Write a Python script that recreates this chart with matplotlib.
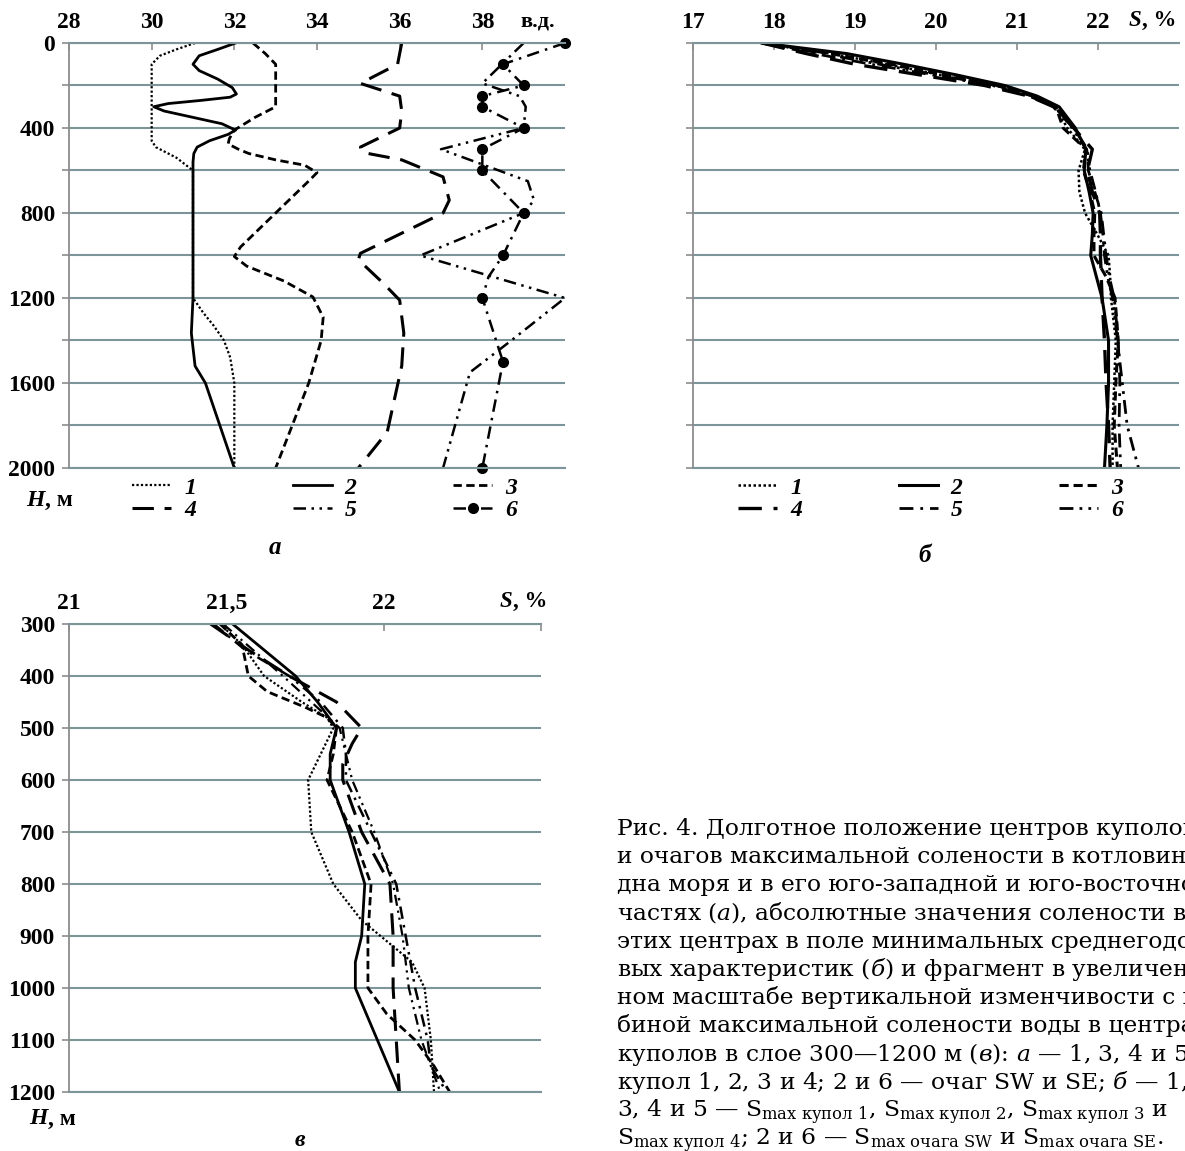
import matplotlib
matplotlib.use("Agg")
import matplotlib.pyplot as plt
from matplotlib.font_manager import FontProperties

plt.rcParams['font.family'] = ['Liberation Serif', 'DejaVu Serif']
plt.rcParams['mathtext.fontset'] = 'custom'
plt.rcParams['mathtext.rm'] = 'DejaVu Serif'
plt.rcParams['mathtext.it'] = 'DejaVu Serif:italic'
plt.rcParams['mathtext.bf'] = 'DejaVu Serif:bold'

# ---------------- panel a: longitude of centres vs depth ----------------
a1_depth = [0, 30, 60, 100, 460, 490, 540, 600, 800, 1000, 1200, 1270, 1330, 1400, 1480, 1600, 2000]
a1_lon = [31.05, 30.6, 30.2, 30.0, 30.0, 30.1, 30.6, 31.0, 31.0, 31.0, 31.0, 31.25, 31.5, 31.75,
          31.9, 32.0, 32.0]

a2_depth = [0, 30, 60, 100, 130, 170, 210, 240, 255, 270, 285, 300, 320, 350, 380, 410, 430, 460,
            490, 520, 560, 800, 1000, 1200, 1365, 1520, 1600, 2000]
a2_lon = [32.03, 31.6, 31.15, 31.0, 31.15, 31.6, 31.95, 32.05, 31.9, 31.2, 30.4, 30.05, 30.3, 31.0,
          31.7, 32.03, 31.85, 31.4, 31.1, 31.02, 31.0, 31.0, 31.0, 31.0, 30.96, 31.05, 31.3, 32.0]

a3_depth = [0, 50, 100, 300, 350, 410, 450, 475, 500, 520, 550, 575, 610, 640, 800, 960, 1005,
            1050, 1120, 1195, 1290, 1400, 1600, 2000]
a3_lon = [32.45, 32.75, 33.0, 33.0, 32.5, 32.0, 31.88, 31.85, 32.1, 32.35, 33.0, 33.7, 34.0, 33.85,
          33.0, 32.15, 32.0, 32.3, 33.2, 33.9, 34.15, 34.1, 33.8, 33.0]

a4_depth = [0, 100, 190, 250, 320, 400, 490, 515, 550, 630, 740, 800, 990, 1020, 1130, 1210, 1365,
            1520, 1830, 2000]
a4_lon = [36.05, 35.95, 35.05, 36.0, 36.05, 36.0, 35.05, 35.1, 36.05, 37.05, 37.2, 37.05, 35.05,
          35.0, 35.6, 36.0, 36.1, 36.05, 35.7, 35.0]

a5_depth = [0, 190, 250, 300, 400, 500, 650, 740, 800, 1000, 1200, 1400, 1550, 2000]
a5_lon = [39.0, 38.0, 38.9, 39.05, 39.0, 37.0, 39.1, 39.25, 39.0, 36.5, 40.0, 38.7, 37.7, 37.05]

a6_depth = [0, 100, 200, 250, 300, 400, 500, 600, 800, 1000, 1100, 1200, 1500, 2000]
a6_lon = [40.0, 38.5, 39.0, 38.0, 38.0, 39.0, 38.0, 38.0, 39.0, 38.5, 38.15, 38.0, 38.5, 38.0]
a6_marked = [0, 1, 2, 3, 4, 5, 6, 7, 8, 9, 11, 12, 13]

a_xticks = [28, 30, 32, 34, 36, 38]
a_yticks = [0, 400, 800, 1200, 1600, 2000]

# ---------------- panel б: salinity profiles 0-2000 m ----------------
b_depth = [0, 50, 100, 150, 200, 250, 300, 400, 500, 600, 700, 800, 900, 1000, 1100, 1200,
           1400, 1600, 1800, 2000]
b1_s = [17.85, 18.7, 19.4, 20.05, 20.75, 21.2, 21.48, 21.62, 21.84, 21.76, 21.77, 21.84, 21.99,
        22.13, 22.15, 22.16, 22.22, 22.2, 22.18, 22.18]
b2_s = [17.85, 18.9, 19.6, 20.25, 20.85, 21.25, 21.52, 21.72, 21.85, 21.83, 21.89, 21.94, 21.93,
        21.91, 21.98, 22.05, 22.13, 22.13, 22.11, 22.08]
b3_s = [17.85, 18.7, 19.45, 20.1, 20.75, 21.2, 21.48, 21.57, 21.85, 21.82, 21.9, 21.96, 21.95,
        21.95, 22.1, 22.21, 22.25, 22.22, 22.2, 22.24]
b4_s = [17.85, 18.4, 19.0, 19.8, 20.6, 21.15, 21.45, 21.7, 21.93, 21.87, 21.93, 22.02, 22.03,
        22.03, 22.04, 22.05, 22.08, 22.1, 22.13, 22.15]
b5_s = [17.85, 18.5, 19.2, 19.95, 20.7, 21.15, 21.46, 21.7, 21.87, 21.88, 21.96, 22.04, 22.07,
        22.1, 22.14, 22.2, 22.25, 22.27, 22.26, 22.28]
b6_s = [17.9, 18.6, 19.3, 20.0, 20.75, 21.2, 21.49, 21.68, 21.86, 21.9, 21.97, 22.03, 22.06,
        22.08, 22.12, 22.18, 22.24, 22.3, 22.36, 22.5]
b_xticks = [17, 18, 19, 20, 21, 22]

# ---------------- panel в: 300-1200 m fragment ----------------
c1_depth = [300, 340, 400, 450, 480, 500, 550, 600, 700, 800, 870, 900, 950, 1000, 1100, 1200]
c1_s = [21.48, 21.55, 21.62, 21.74, 21.82, 21.84, 21.8, 21.76, 21.77, 21.84, 21.93, 21.99, 22.09,
        22.13, 22.15, 22.16]
c2_depth = [300, 400, 450, 500, 550, 600, 700, 800, 900, 950, 1000, 1100, 1200]
c2_s = [21.52, 21.72, 21.79, 21.85, 21.83, 21.83, 21.89, 21.94, 21.93, 21.91, 21.91, 21.98, 22.05]
c3_depth = [300, 340, 400, 430, 460, 480, 500, 550, 600, 700, 800, 900, 1000, 1050, 1100, 1150,
            1200]
c3_s = [21.48, 21.55, 21.57, 21.63, 21.75, 21.82, 21.85, 21.84, 21.82, 21.9, 21.96, 21.95, 21.95,
        22.01, 22.1, 22.16, 22.21]
c4_depth = [300, 350, 400, 450, 500, 530, 570, 600, 700, 800, 900, 1000, 1100, 1200]
c4_s = [21.45, 21.57, 21.7, 21.85, 21.93, 21.9, 21.87, 21.87, 21.93, 22.02, 22.03, 22.03, 22.04,
        22.05]
c5_depth = [300, 350, 400, 450, 500, 550, 600, 700, 800, 900, 1000, 1100, 1150, 1200]
c5_s = [21.46, 21.56, 21.7, 21.8, 21.87, 21.88, 21.88, 21.96, 22.04, 22.07, 22.1, 22.14, 22.15,
        22.2]
c6_depth = [300, 400, 500, 600, 700, 800, 900, 1000, 1100, 1200]
c6_s = [21.49, 21.68, 21.86, 21.9, 21.97, 22.03, 22.06, 22.08, 22.12, 22.18]
c_xticks = [21, 21.5, 22, 22.5]
c_xlabels = ['21', '21,5', '22', '']
c_yticks = [300, 400, 500, 600, 700, 800, 900, 1000, 1100, 1200]

legend_labels = ['1', '2', '3', '4', '5', '6']

caption_lines = [
    "Рис. 4. Долготное положение центров куполов",
    "и очагов максимальной солености в котловине",
    "дна моря и в его юго-западной и юго-восточной",
    r"частях ($\mathit{а}$), абсолютные значения солености в",
    "этих центрах в поле минимальных среднегодо-",
    r"вых характеристик ($\mathit{б}$) и фрагмент в увеличен-",
    "ном масштабе вертикальной изменчивости с глу-",
    "биной максимальной солености воды в центрах",
    r"куполов в слое 300—1200 м ($\mathit{в}$): $\mathit{а}$ — $\mathit{1}$, $\mathit{3}$, $\mathit{4}$ и $\mathit{5}$ —",
    r"купол 1, 2, 3 и 4; $\mathit{2}$ и $\mathit{6}$ — очаг SW и SE; $\mathit{б}$ — $\mathit{1}$,",
    r"$\mathit{3}$, $\mathit{4}$ и $\mathit{5}$ — S$_{\mathrm{max\ купол\ 1}}$, S$_{\mathrm{max\ купол\ 2}}$, S$_{\mathrm{max\ купол\ 3}}$ и",
    r"S$_{\mathrm{max\ купол\ 4}}$; $\mathit{2}$ и $\mathit{6}$ — S$_{\mathrm{max\ очага\ SW}}$ и S$_{\mathrm{max\ очага\ SE}}$.",
]

# ---------------- figure ----------------
W, H = 1185, 1151
fig = plt.figure(figsize=(W / 100, H / 100), dpi=100)


def rect(l, r, t, b):
    return [l / W, 1 - b / H, (r - l) / W, (b - t) / H]


GRID = '#7d949b'
SPINE = '#8c8c8c'
TICKFONT = FontProperties(family='Liberation Serif', weight='bold', size=17)
LEGFONT = FontProperties(family='Liberation Serif', weight='bold', style='italic', size=17)

ST_DOT = (0, (1.0, 1.0))
ST_SOLID = '-'
ST_SHORT = (0, (3.0, 1.6))
ST_LONG = (0, (7.0, 3.5))
ST_DD = (0, (5.0, 2.2, 1.0, 2.2, 1.0, 2.2))
ST_DOTDASH = (0, (5.0, 2.5, 1.0, 2.5))


def style(ax, xlim, ylim, xticks, xlabels, ymaj, ylabels, ymin):
    ax.set_xlim(*xlim)
    ax.set_ylim(*ylim)
    ax.spines['right'].set_visible(False)
    ax.spines['left'].set_color(SPINE)
    ax.spines['left'].set_linewidth(1.3)
    for s in ('top', 'bottom'):
        ax.spines[s].set_color(GRID)
        ax.spines[s].set_linewidth(1.5)
    ax.xaxis.tick_top()
    ax.set_xticks(xticks)
    ax.set_xticklabels(xlabels)
    ax.tick_params(axis='x', direction='in', length=5, width=1.2, color=SPINE, pad=7)
    ax.set_yticks(ymaj)
    ax.set_yticklabels(ylabels)
    if ymin:
        ax.set_yticks(ymin, minor=True)
    ax.tick_params(axis='y', which='both', direction='out', length=5, width=1.2, color=SPINE, pad=5)
    ax.grid(axis='y', which='both', color=GRID, linewidth=1.5)
    ax.set_axisbelow(True)
    for lbl in ax.get_xticklabels() + ax.get_yticklabels():
        lbl.set_fontproperties(TICKFONT)


def add_legend(ax, lines, x, y):
    order = [0, 3, 1, 4, 2, 5]
    ax.legend([lines[i] for i in order], [legend_labels[i] for i in order], ncol=3,
              loc='upper left', bbox_to_anchor=(x / W, 1 - y / H), bbox_transform=fig.transFigure,
              frameon=False, prop=LEGFONT, handlelength=1.65, handletextpad=0.55,
              columnspacing=4.1, labelspacing=0.05, borderpad=0, borderaxespad=0)


def axis_unit_label(ax, xval, yoff, head, tail, size):
    tr = ax.get_xaxis_transform()
    ax.text(xval, 1.0 + yoff, head, transform=tr, ha='right', va='bottom', clip_on=False,
            family='Liberation Serif', weight='bold', style='italic', size=size)
    ax.text(xval, 1.0 + yoff, tail, transform=tr, ha='left', va='bottom', clip_on=False,
            family='Liberation Serif', weight='bold', size=size)


def depth_label(x, y):
    fig.text(x / W, 1 - y / H, 'H', ha='right', va='center', family='Liberation Serif',
             weight='bold', style='italic', size=17)
    fig.text(x / W, 1 - y / H, ', м', ha='left', va='center', family='Liberation Serif',
             weight='bold', size=17)


# ---- panel a
axa = fig.add_axes(rect(69, 565, 43, 468))
la = []
la += axa.plot(a1_lon, a1_depth, color='k', lw=1.6, ls=ST_DOT)
la += axa.plot(a2_lon, a2_depth, color='k', lw=2.0, ls=ST_SOLID)
la += axa.plot(a3_lon, a3_depth, color='k', lw=2.0, ls=ST_SHORT)
la += axa.plot(a4_lon, a4_depth, color='k', lw=2.2, ls=ST_LONG)
la += axa.plot(a5_lon, a5_depth, color='k', lw=1.8, ls=ST_DD)
la += axa.plot(a6_lon, a6_depth, color='k', lw=1.8, ls=ST_DOTDASH, marker='o', markersize=7,
               markevery=a6_marked, clip_on=False)
style(axa, (28, 40), (2000, 0), a_xticks, [str(v) for v in a_xticks], a_yticks,
      [str(v) for v in a_yticks], [200, 600, 1000, 1400, 1800])
axa.text(39.35, 1.0 + 12 / 425, 'в.д.', transform=axa.get_xaxis_transform(), ha='center',
         va='bottom', fontproperties=TICKFONT, fontsize=16)
add_legend(axa, la, 132, 477)
depth_label(45, 500)
fig.text(275 / W, 1 - 548 / H, 'а', ha='center', va='center', family='Liberation Serif',
         weight='bold', style='italic', size=18)

# ---- panel б
axb = fig.add_axes(rect(693, 1179, 43, 468))
lb = []
lb += axb.plot(b1_s, b_depth, color='k', lw=1.8, ls=ST_DOT)
lb += axb.plot(b2_s, b_depth, color='k', lw=2.2, ls=ST_SOLID)
lb += axb.plot(b3_s, b_depth, color='k', lw=2.2, ls=ST_SHORT)
lb += axb.plot(b4_s, b_depth, color='k', lw=2.4, ls=ST_LONG)
lb += axb.plot(b5_s, b_depth, color='k', lw=2.0, ls=ST_DOTDASH)
lb += axb.plot(b6_s, b_depth, color='k', lw=2.0, ls=ST_DD)
style(axb, (17, 23), (2000, 0), b_xticks, [str(v) for v in b_xticks],
      list(range(0, 2001, 200)), [''] * 11, None)
axis_unit_label(axb, 22.54, 12 / 425, 'S', ', %', 16.5)
add_legend(axb, lb, 738, 477)
fig.text(925 / W, 1 - 556 / H, 'б', ha='center', va='center', family='Liberation Serif',
         weight='bold', style='italic', size=18)

# ---- panel в
axc = fig.add_axes(rect(69, 541, 624, 1092))
axc.plot(c1_s, c1_depth, color='k', lw=1.6, ls=ST_DOT)
axc.plot(c2_s, c2_depth, color='k', lw=2.0, ls=ST_SOLID)
axc.plot(c3_s, c3_depth, color='k', lw=2.0, ls=ST_SHORT)
axc.plot(c4_s, c4_depth, color='k', lw=2.2, ls=ST_LONG)
axc.plot(c5_s, c5_depth, color='k', lw=1.8, ls=ST_DOTDASH)
axc.plot(c6_s, c6_depth, color='k', lw=1.6, ls=ST_DD)
style(axc, (21, 22.5), (1200, 300), c_xticks, c_xlabels, c_yticks,
      [str(v) for v in c_yticks], None)
axis_unit_label(axc, 22.41, 12 / 468, 'S', ', %', 16.5)
depth_label(48, 1119)
fig.text(300 / W, 1 - 1141 / H, 'в', ha='center', va='center', family='Liberation Serif',
         weight='bold', style='italic', size=17)

# ---- caption
for i, line in enumerate(caption_lines):
    fig.text(617 / W, 1 - (835 + 28.2 * i) / H, line, ha='left', va='baseline',
             family='DejaVu Serif', size=16.8)

fig.savefig('out.png', dpi=100)
